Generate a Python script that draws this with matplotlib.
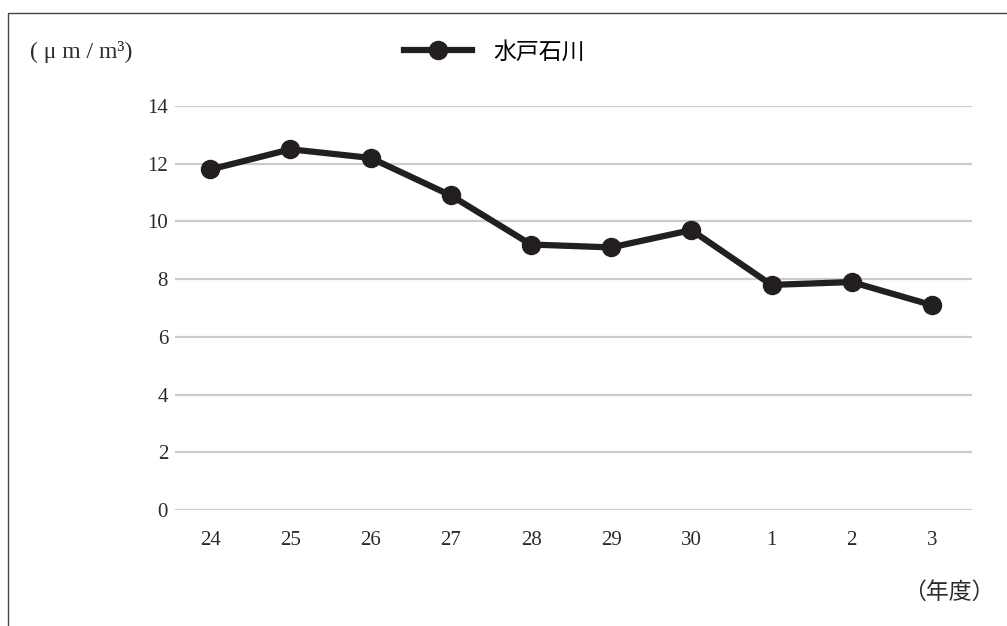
import matplotlib
matplotlib.use('Agg')
import matplotlib.pyplot as plt
from matplotlib.patches import Rectangle
from matplotlib.lines import Line2D

plt.rcParams['font.family'] = ['Liberation Serif', 'Noto Sans CJK JP', 'DejaVu Sans']

years = ['24', '25', '26', '27', '28', '29', '30', '1', '2', '3']
mito = [11.8, 12.5, 12.2, 10.9, 9.2, 9.1, 9.7, 7.8, 7.9, 7.1]
yticks = [0, 2, 4, 6, 8, 10, 12, 14]

col = '#231f20'
txt = '#2a2a2a'
W, H = 1007, 626
fig = plt.figure(figsize=(W / 100, H / 100), dpi=100)

# outer frame (runs off the right and bottom of the image)
fig.patches.append(Rectangle((8 / W, -0.1), 1.2, 1 - 13 / H + 0.1, transform=fig.transFigure,
                             fill=False, edgecolor='#444444', linewidth=1.0))

ax = fig.add_axes([175 / W, 1 - 510 / H, (972 - 175) / W, (510 - 106) / H])
x = list(range(len(years)))
ax.plot(x, mito, color=col, linewidth=4.5, marker='o', markersize=13, clip_on=False, zorder=3)

ax.set_xlim(-0.44, 9.5)
ax.set_ylim(0, 14)
ax.set_yticks(yticks)
ax.set_yticklabels([str(v) for v in yticks])
ax.set_xticks(x)
ax.set_xticklabels(years)
ax.yaxis.grid(True, color='#cccccc', linewidth=1.6)
ax.set_axisbelow(True)
for s in ax.spines.values():
    s.set_visible(False)
ax.tick_params(axis='y', length=0, pad=5, labelsize=15, labelcolor=txt)
ax.tick_params(axis='x', length=0, pad=15, labelsize=15, labelcolor=txt)

# legend
h = Line2D([], [], color=col, linewidth=4.5, marker='o', markersize=13)
fig.legend([h], ['水戸石川'], loc='center', bbox_to_anchor=(494 / W, 1 - 52 / H),
           frameon=False, handlelength=3.0, handletextpad=0.9,
           prop={'family': ['Noto Sans CJK JP'], 'size': 16.5})

fig.text(30 / W, 1 - 52 / H, '( μ m / m³)', fontsize=17, va='center', ha='left', color=txt)
fig.text(995 / W, 1 - 592 / H, '（年度）', fontsize=16.5, va='center', ha='right', color=txt,
         family=['Noto Sans CJK JP'])

fig.savefig('out.png', dpi=100)
